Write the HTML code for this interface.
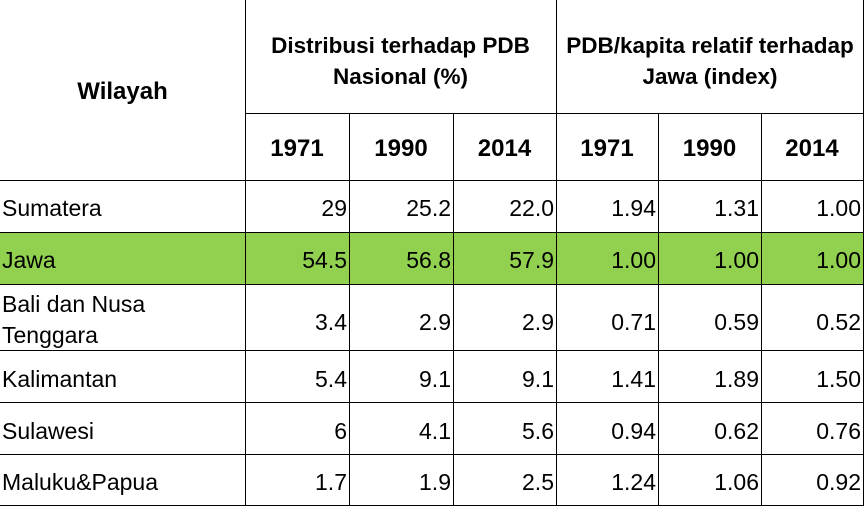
<!DOCTYPE html>
<html><head><style>
body{margin:0;width:867px;height:512px;background:#fff;position:relative;overflow:hidden;font-family:"Liberation Sans",sans-serif;color:#000}
.h{position:absolute;height:1px;background:#000}
.v{position:absolute;width:1px;background:#000}
.t{position:absolute;font-size:23px;line-height:27px;white-space:nowrap}
.r{text-align:right}
.b{font-weight:bold;font-size:24px;text-align:center}
</style></head><body>
<div style="position:absolute;left:0;top:233px;width:864px;height:51px;background:#92D050"></div>
<div class="h" style="left:245px;top:113px;width:619px"></div>
<div class="h" style="left:0;top:180px;width:864px"></div>
<div class="h" style="left:0;top:232px;width:864px"></div>
<div class="h" style="left:0;top:284px;width:864px"></div>
<div class="h" style="left:0;top:350px;width:864px"></div>
<div class="h" style="left:0;top:402px;width:864px"></div>
<div class="h" style="left:0;top:454px;width:864px"></div>
<div class="h" style="left:0;top:505px;width:864px"></div>
<div class="v" style="left:245px;top:0;height:506px"></div>
<div class="v" style="left:556px;top:0;height:506px"></div>
<div class="v" style="left:863px;top:0;height:506px"></div>
<div class="v" style="left:349px;top:113px;height:393px"></div>
<div class="v" style="left:453px;top:113px;height:393px"></div>
<div class="v" style="left:658px;top:113px;height:393px"></div>
<div class="v" style="left:761px;top:113px;height:393px"></div>

<div class="t b" style="left:0;top:78px;width:245px">Wilayah</div>
<div class="t b" style="left:245px;top:30px;width:311px;font-size:22.5px;line-height:31px">Distribusi terhadap PDB<br>Nasional (%)</div>
<div class="t b" style="left:556px;top:30px;width:308px;font-size:22.5px;line-height:31px">PDB/kapita relatif terhadap<br>Jawa (index)</div>
<div class="t b" style="left:245px;top:135px;width:104px">1971</div>
<div class="t b" style="left:349px;top:135px;width:104px">1990</div>
<div class="t b" style="left:453px;top:135px;width:103px">2014</div>
<div class="t b" style="left:556px;top:135px;width:102px">1971</div>
<div class="t b" style="left:658px;top:135px;width:103px">1990</div>
<div class="t b" style="left:761px;top:135px;width:102px">2014</div>

<div id="rows"></div>
<script>
var rows=[["Sumatera",193,["29","25.2","22.0","1.94","1.31","1.00"]],
["Jawa",245,["54.5","56.8","57.9","1.00","1.00","1.00"]],
["Bali dan Nusa<br>Tenggara",289,["3.4","2.9","2.9","0.71","0.59","0.52"]],
["Kalimantan",364,["5.4","9.1","9.1","1.41","1.89","1.50"]],
["Sulawesi",416,["6","4.1","5.6","0.94","0.62","0.76"]],
["Maluku&amp;Papua",467,["1.7","1.9","2.5","1.24","1.06","0.92"]]];
var rights=[348,452,555,657,760,862];var h="";
rows.forEach(function(r){
h+='<div class="t" style="left:2px;top:'+r[1]+'px;line-height:31px">'+r[0]+'</div>';
var vy=r[0].indexOf("<br>")>0?r[1]+18:r[1];
r[2].forEach(function(v,i){h+='<div class="t r" style="left:'+(rights[i]-100)+'px;width:99px;top:'+vy+'px;line-height:31px">'+v+'</div>';});});
document.getElementById("rows").innerHTML=h;
</script>
</body></html>
